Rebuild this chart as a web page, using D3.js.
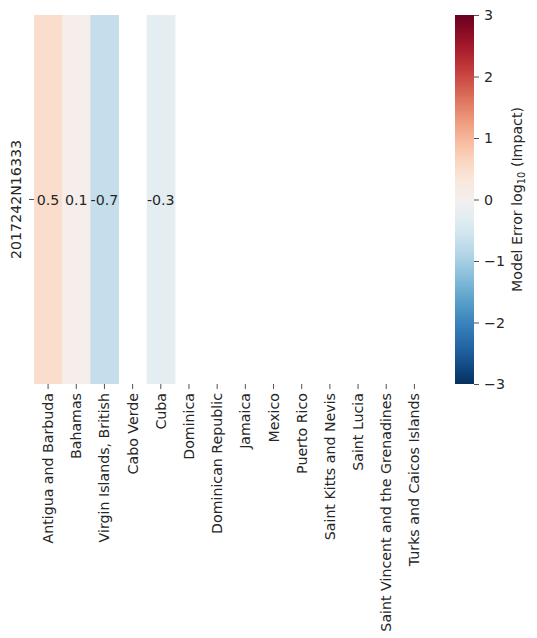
<!DOCTYPE html>
<html>
<head>
<meta charset="utf-8">
<script src="https://cdn.jsdelivr.net/npm/d3@7"></script>
<style>
  body { margin: 0; background: #fff; }
  text { font-family: "DejaVu Sans", sans-serif; }
</style>
</head>
<body>
<svg id="chart" width="537" height="638"></svg>
<script>
const rows = ["2017242N16333"];
const countries = ["Antigua and Barbuda", "Bahamas", "Virgin Islands, British", "Cabo Verde", "Cuba",
  "Dominica", "Dominican Republic", "Jamaica", "Mexico", "Puerto Rico", "Saint Kitts and Nevis",
  "Saint Lucia", "Saint Vincent and the Grenadines", "Turks and Caicos Islands"];
const values = [0.5, 0.1, -0.7, null, -0.3, null, null, null, null, null, null, null, null, null];
const cbarTicks = [-3, -2, -1, 0, 1, 2, 3];

const svg = d3.select("#chart");
const plotLeft = 34, plotRight = 428.5, plotTop = 15, plotBottom = 384;
const fs = 14.2;

const x = d3.scaleBand().domain(countries).range([plotLeft, plotRight]);
const y = d3.scaleBand().domain(rows).range([plotTop, plotBottom]);
const color = v => d3.interpolateRdBu(1 - (v + 3) / 6);

const cells = countries.map((c, i) => ({ country: c, row: rows[0], value: values[i] }))
  .filter(d => d.value !== null);

svg.append("g").selectAll("rect").data(cells).join("rect")
  .attr("x", d => x(d.country))
  .attr("y", d => y(d.row))
  .attr("width", x.bandwidth() + 0.5)
  .attr("height", y.bandwidth())
  .attr("fill", d => color(d.value));

svg.append("g").selectAll("text").data(cells).join("text")
  .attr("x", d => x(d.country) + x.bandwidth() / 2)
  .attr("y", d => y(d.row) + y.bandwidth() / 2)
  .attr("text-anchor", "middle")
  .attr("dominant-baseline", "central")
  .attr("font-size", fs)
  .attr("fill", "#262626")
  .text(d => d.value.toFixed(1));

// x axis
const xAxis = svg.append("g")
  .attr("transform", `translate(0,${plotBottom})`)
  .call(d3.axisBottom(x).tickSize(5).tickSizeOuter(0).tickPadding(4));
xAxis.select(".domain").remove();
xAxis.selectAll("line").attr("stroke", "#262626").attr("stroke-width", 0.8);
xAxis.selectAll("text")
  .attr("font-size", fs)
  .attr("fill", "#262626")
  .attr("transform", "rotate(-90)")
  .attr("text-anchor", "end")
  .attr("dy", "0.35em")
  .attr("x", -9)
  .attr("y", 0);

// y axis
const yAxis = svg.append("g")
  .attr("transform", `translate(${plotLeft},0)`)
  .call(d3.axisLeft(y).tickSize(5).tickSizeOuter(0).tickFormat(() => ""));
yAxis.select(".domain").remove();
yAxis.selectAll("line").attr("stroke", "#262626").attr("stroke-width", 0.8);
svg.append("text")
  .attr("transform", `translate(21,${y(rows[0]) + y.bandwidth() / 2}) rotate(-90)`)
  .attr("text-anchor", "middle")
  .attr("font-size", fs)
  .attr("fill", "#262626")
  .text(rows[0]);

// colorbar
const cbX = 455, cbW = 19;
const cbScale = d3.scaleLinear().domain([-3, 3]).range([plotBottom, plotTop]);
const defs = svg.append("defs");
const grad = defs.append("linearGradient").attr("id", "cbar")
  .attr("x1", 0).attr("y1", 1).attr("x2", 0).attr("y2", 0);
d3.range(0, 1.0001, 0.05).forEach(t => {
  grad.append("stop").attr("offset", t).attr("stop-color", color(-3 + 6 * t));
});
svg.append("rect")
  .attr("x", cbX).attr("y", plotTop)
  .attr("width", cbW).attr("height", plotBottom - plotTop)
  .attr("fill", "url(#cbar)");
const cAxis = svg.append("g")
  .attr("transform", `translate(${cbX + cbW},0)`)
  .call(d3.axisRight(cbScale).tickValues(cbarTicks).tickSize(5).tickPadding(5)
    .tickFormat(d => d < 0 ? "\u2212" + Math.abs(d) : d));
cAxis.select(".domain").remove();
cAxis.selectAll("line").attr("stroke", "#262626").attr("stroke-width", 0.8);
cAxis.selectAll("text").attr("font-size", fs).attr("fill", "#262626");

const lbl = svg.append("text")
  .attr("transform", `translate(522,${(plotTop + plotBottom) / 2}) rotate(-90)`)
  .attr("text-anchor", "middle")
  .attr("font-size", fs)
  .attr("fill", "#262626");
lbl.append("tspan").text("Model Error log");
lbl.append("tspan").attr("font-size", 9.9).attr("dy", 3).text("10");
lbl.append("tspan").attr("dy", -3).text(" (Impact)");
</script>
</body>
</html>
